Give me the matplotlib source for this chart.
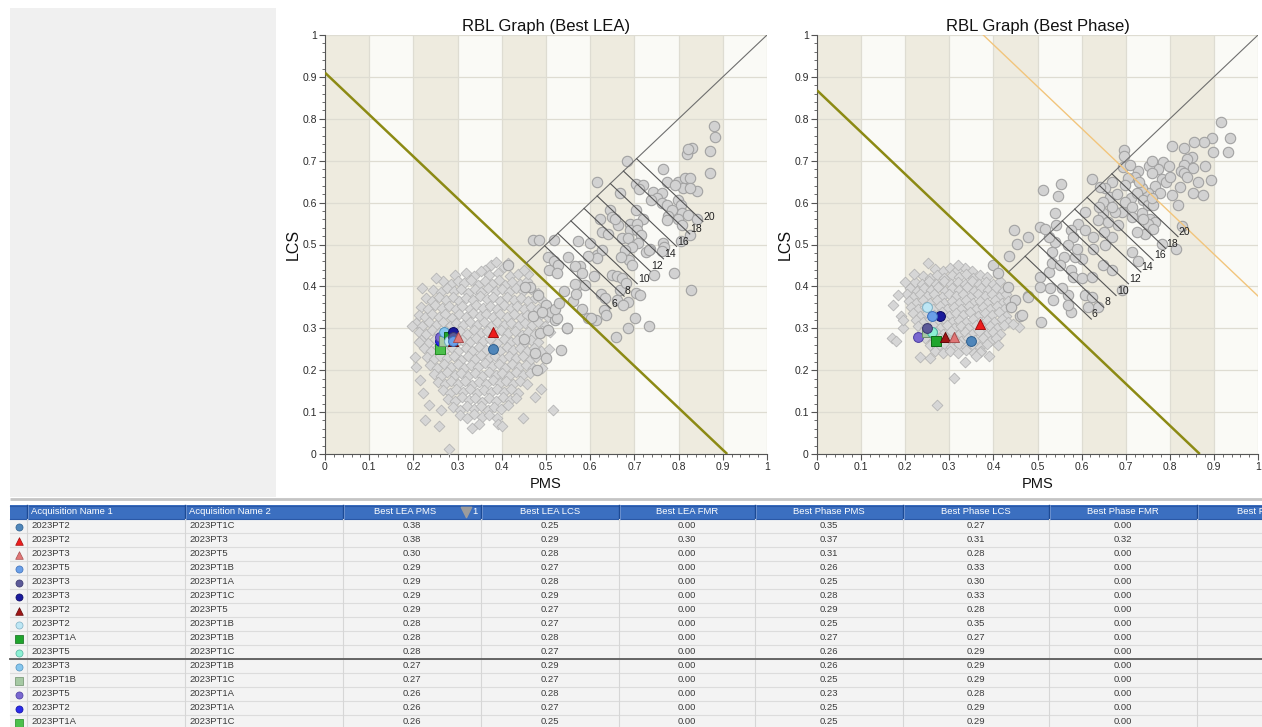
import matplotlib
matplotlib.use('Agg')
import matplotlib.pyplot as plt
from matplotlib.patches import Rectangle
from matplotlib.ticker import MultipleLocator
import numpy as np

# ---------------- DATA ----------------
# gray background population, "Best LEA" graph (diamonds = low scores, circles = high scores)
lea_diamonds = [
    (0.375,0.452),(0.388,0.458),(0.405,0.447),(0.415,0.455),(0.362,0.440),
    (0.295,0.428),(0.318,0.432),(0.337,0.425),(0.352,0.436),(0.371,0.427),(0.392,0.433),(0.418,0.424),(0.436,0.429),
    (0.268,0.412),(0.284,0.405),(0.301,0.414),(0.315,0.407),(0.331,0.416),(0.346,0.404),(0.362,0.413),(0.377,0.406),(0.393,0.415),(0.408,0.403),(0.424,0.411),(0.441,0.405),(0.458,0.414),
    (0.245,0.392),(0.262,0.386),(0.277,0.395),(0.292,0.388),(0.308,0.394),(0.323,0.385),(0.339,0.393),(0.354,0.387),(0.369,0.396),(0.386,0.389),(0.401,0.394),(0.417,0.386),(0.432,0.395),(0.449,0.388),(0.466,0.393),(0.481,0.385),
    (0.228,0.372),(0.243,0.366),(0.258,0.375),(0.273,0.368),(0.289,0.374),(0.304,0.365),(0.319,0.373),(0.335,0.367),(0.350,0.376),(0.366,0.369),(0.381,0.374),(0.397,0.366),(0.412,0.375),(0.428,0.368),(0.443,0.373),(0.459,0.365),(0.474,0.372),(0.490,0.367),
    (0.218,0.352),(0.233,0.346),(0.249,0.355),(0.264,0.348),(0.280,0.354),(0.296,0.345),(0.311,0.353),(0.327,0.347),(0.342,0.356),(0.357,0.349),(0.373,0.354),(0.389,0.346),(0.404,0.355),(0.420,0.348),(0.435,0.353),(0.451,0.345),(0.466,0.352),(0.482,0.347),(0.497,0.354),
    (0.212,0.332),(0.226,0.326),(0.241,0.335),(0.257,0.328),(0.272,0.334),(0.288,0.325),(0.303,0.333),(0.319,0.327),(0.334,0.336),(0.350,0.329),(0.365,0.334),(0.381,0.326),(0.396,0.335),(0.412,0.328),(0.427,0.333),(0.443,0.325),(0.458,0.332),(0.474,0.327),(0.489,0.334),(0.505,0.328),
    (0.205,0.312),(0.220,0.306),(0.235,0.315),(0.251,0.308),(0.266,0.314),(0.282,0.305),(0.297,0.313),(0.313,0.307),(0.328,0.316),(0.344,0.309),(0.359,0.314),(0.375,0.306),(0.390,0.315),(0.406,0.308),(0.421,0.313),(0.437,0.305),(0.452,0.312),(0.468,0.307),(0.483,0.314),(0.498,0.306),
    (0.212,0.292),(0.228,0.286),(0.243,0.295),(0.259,0.288),(0.274,0.294),(0.290,0.285),(0.305,0.293),(0.321,0.287),(0.336,0.296),(0.352,0.289),(0.367,0.294),(0.383,0.286),(0.398,0.295),(0.414,0.288),(0.429,0.293),(0.445,0.285),(0.460,0.292),(0.476,0.287),(0.491,0.294),
    (0.218,0.272),(0.233,0.266),(0.249,0.275),(0.264,0.268),(0.280,0.274),(0.296,0.265),(0.311,0.273),(0.327,0.267),(0.342,0.276),(0.357,0.269),(0.373,0.274),(0.389,0.266),(0.404,0.275),(0.420,0.268),(0.435,0.273),(0.451,0.265),(0.466,0.272),(0.482,0.267),
    (0.225,0.252),(0.240,0.246),(0.256,0.255),(0.271,0.248),(0.287,0.254),(0.302,0.245),(0.318,0.253),(0.333,0.247),(0.349,0.256),(0.364,0.249),(0.380,0.254),(0.395,0.246),(0.411,0.255),(0.426,0.248),(0.442,0.253),(0.457,0.245),(0.473,0.252),(0.488,0.247),
    (0.230,0.232),(0.246,0.226),(0.261,0.235),(0.277,0.228),(0.292,0.234),(0.308,0.225),(0.323,0.233),(0.339,0.227),(0.354,0.236),(0.370,0.229),(0.385,0.234),(0.401,0.226),(0.416,0.235),(0.432,0.228),(0.447,0.233),(0.463,0.225),(0.478,0.232),
    (0.238,0.212),(0.253,0.206),(0.269,0.215),(0.284,0.208),(0.300,0.214),(0.315,0.205),(0.331,0.213),(0.346,0.207),(0.362,0.216),(0.377,0.209),(0.393,0.214),(0.408,0.206),(0.424,0.215),(0.439,0.208),(0.455,0.213),(0.470,0.205),
    (0.246,0.192),(0.262,0.186),(0.277,0.195),(0.293,0.188),(0.308,0.194),(0.324,0.185),(0.339,0.193),(0.355,0.187),(0.370,0.196),(0.386,0.189),(0.401,0.194),(0.417,0.186),(0.432,0.195),(0.448,0.188),(0.463,0.193),
    (0.255,0.172),(0.271,0.166),(0.286,0.175),(0.302,0.168),(0.317,0.174),(0.333,0.165),(0.348,0.173),(0.364,0.167),(0.379,0.176),(0.395,0.169),(0.410,0.174),(0.426,0.166),(0.441,0.175),(0.457,0.168),
    (0.266,0.152),(0.282,0.146),(0.297,0.155),(0.313,0.148),(0.328,0.154),(0.344,0.145),(0.359,0.153),(0.375,0.147),(0.390,0.156),(0.406,0.149),(0.421,0.154),(0.437,0.146),
    (0.278,0.132),(0.294,0.126),(0.309,0.135),(0.325,0.128),(0.340,0.134),(0.356,0.125),(0.371,0.133),(0.387,0.127),(0.402,0.136),(0.418,0.129),(0.432,0.134),
    (0.290,0.112),(0.306,0.106),(0.321,0.115),(0.337,0.108),(0.352,0.114),(0.368,0.105),(0.383,0.113),(0.399,0.107),(0.414,0.116),
    (0.305,0.092),(0.322,0.086),(0.338,0.095),(0.356,0.088),(0.372,0.094),(0.390,0.085),
    (0.203,0.232),(0.207,0.208),(0.214,0.176),(0.221,0.146),(0.226,0.082),(0.236,0.118),(0.257,0.066),(0.262,0.104),
    (0.281,0.011),(0.332,0.062),(0.348,0.071),(0.392,0.072),(0.401,0.066),(0.448,0.086),(0.515,0.105),(0.492,0.205),
    (0.488,0.156),(0.475,0.137),(0.197,0.305),(0.213,0.268),(0.506,0.250),(0.510,0.290),(0.460,0.430),(0.450,0.440),
    (0.250,0.420),(0.220,0.395),
]
lea_circles = [
    (0.880,0.783),(0.882,0.757),(0.870,0.724),(0.871,0.670),(0.830,0.731),(0.820,0.715),(0.822,0.728),(0.684,0.699),
    (0.765,0.679),(0.615,0.648),(0.773,0.650),(0.799,0.650),(0.814,0.658),(0.826,0.658),(0.841,0.628),(0.811,0.634),
    (0.792,0.642),(0.826,0.634),(0.704,0.644),(0.720,0.642),(0.711,0.632),(0.667,0.622),(0.743,0.626),(0.762,0.622),
    (0.751,0.610),(0.738,0.606),(0.762,0.598),(0.773,0.594),(0.798,0.606),(0.805,0.594),(0.785,0.582),(0.807,0.574),
    (0.822,0.570),(0.841,0.562),(0.799,0.562),(0.777,0.568),(0.773,0.558),(0.807,0.546),(0.826,0.523),(0.805,0.509),
    (0.789,0.431),(0.827,0.391),(0.645,0.582),(0.649,0.566),(0.664,0.546),(0.656,0.562),(0.703,0.582),(0.720,0.562),
    (0.690,0.550),(0.707,0.550),(0.690,0.534),(0.705,0.534),(0.716,0.522),(0.709,0.503),(0.727,0.483),(0.735,0.490),
    (0.671,0.515),(0.686,0.515),(0.694,0.495),(0.679,0.487),(0.688,0.463),(0.695,0.451),(0.669,0.471),(0.622,0.562),
    (0.626,0.530),(0.641,0.526),(0.600,0.503),(0.615,0.474),(0.627,0.488),(0.616,0.467),(0.594,0.472),(0.577,0.448),
    (0.573,0.509),(0.550,0.471),(0.517,0.511),(0.471,0.511),(0.485,0.511),(0.505,0.471),(0.518,0.460),(0.527,0.452),
    (0.506,0.439),(0.526,0.431),(0.541,0.389),(0.565,0.448),(0.581,0.432),(0.573,0.404),(0.565,0.406),(0.588,0.404),
    (0.608,0.424),(0.649,0.427),(0.660,0.424),(0.671,0.420),(0.668,0.392),(0.682,0.408),(0.624,0.383),(0.633,0.372),
    (0.660,0.367),(0.686,0.363),(0.675,0.355),(0.703,0.385),(0.712,0.380),(0.745,0.427),(0.765,0.503),(0.766,0.495),
    (0.762,0.484),(0.732,0.487),(0.632,0.344),(0.613,0.320),(0.594,0.324),(0.636,0.332),(0.701,0.324),(0.686,0.300),
    (0.734,0.306),(0.658,0.280),(0.535,0.248),(0.548,0.300),(0.520,0.320),(0.560,0.364),(0.567,0.383),(0.582,0.345),
    (0.601,0.324),(0.415,0.451),(0.464,0.399),(0.483,0.380),(0.501,0.356),(0.512,0.340),(0.524,0.325),(0.547,0.300),
    (0.486,0.288),(0.479,0.200),(0.452,0.399),(0.505,0.296),(0.520,0.345),(0.530,0.360),(0.470,0.330),(0.490,0.340),
    (0.475,0.240),(0.500,0.230),(0.450,0.275),
]
# gray background population, "Best Phase" graph
phase_diamonds = [
    (0.268,0.442),(0.285,0.436),(0.302,0.445),(0.318,0.438),(0.335,0.444),(0.352,0.437),
    (0.240,0.426),(0.256,0.421),(0.272,0.428),(0.289,0.420),(0.305,0.427),(0.321,0.422),(0.338,0.429),(0.354,0.421),(0.370,0.427),(0.385,0.423),
    (0.222,0.411),(0.238,0.405),(0.254,0.412),(0.270,0.406),(0.287,0.413),(0.303,0.405),(0.319,0.411),(0.336,0.406),(0.352,0.413),(0.368,0.405),(0.384,0.411),(0.400,0.406),(0.414,0.412),
    (0.210,0.396),(0.226,0.390),(0.242,0.397),(0.258,0.391),(0.275,0.398),(0.291,0.390),(0.307,0.396),(0.323,0.391),(0.340,0.398),(0.356,0.390),(0.372,0.396),(0.388,0.391),(0.405,0.397),(0.421,0.390),
    (0.203,0.381),(0.218,0.375),(0.234,0.382),(0.250,0.376),(0.266,0.383),(0.283,0.375),(0.299,0.381),(0.315,0.376),(0.331,0.383),(0.348,0.375),(0.364,0.381),(0.380,0.376),(0.396,0.383),(0.413,0.375),(0.428,0.381),
    (0.208,0.366),(0.224,0.360),(0.240,0.367),(0.256,0.361),(0.273,0.368),(0.289,0.360),(0.305,0.366),(0.321,0.361),(0.338,0.368),(0.354,0.360),(0.370,0.366),(0.386,0.361),(0.403,0.368),(0.419,0.360),(0.434,0.366),
    (0.214,0.351),(0.230,0.345),(0.246,0.352),(0.262,0.346),(0.279,0.353),(0.295,0.345),(0.311,0.351),(0.327,0.346),(0.344,0.353),(0.360,0.345),(0.376,0.351),(0.392,0.346),(0.409,0.353),(0.425,0.345),(0.440,0.351),
    (0.218,0.336),(0.234,0.330),(0.250,0.337),(0.266,0.331),(0.283,0.338),(0.299,0.330),(0.315,0.336),(0.331,0.331),(0.348,0.338),(0.364,0.330),(0.380,0.336),(0.396,0.331),(0.413,0.338),(0.429,0.330),
    (0.224,0.321),(0.240,0.315),(0.256,0.322),(0.272,0.316),(0.289,0.323),(0.305,0.315),(0.321,0.321),(0.337,0.316),(0.354,0.323),(0.370,0.315),(0.386,0.321),(0.402,0.316),(0.419,0.323),(0.433,0.315),
    (0.230,0.306),(0.246,0.300),(0.262,0.307),(0.278,0.301),(0.295,0.308),(0.311,0.300),(0.327,0.306),(0.343,0.301),(0.360,0.308),(0.376,0.300),(0.392,0.306),(0.408,0.301),(0.423,0.307),
    (0.238,0.291),(0.254,0.285),(0.270,0.292),(0.286,0.286),(0.303,0.293),(0.319,0.285),(0.335,0.291),(0.351,0.286),(0.368,0.293),(0.384,0.285),(0.400,0.291),(0.414,0.286),
    (0.246,0.276),(0.262,0.270),(0.278,0.277),(0.294,0.271),(0.311,0.278),(0.327,0.270),(0.343,0.276),(0.359,0.271),(0.376,0.278),(0.392,0.270),(0.405,0.276),
    (0.256,0.261),(0.272,0.255),(0.288,0.262),(0.304,0.256),(0.321,0.263),(0.337,0.255),(0.353,0.261),(0.369,0.256),(0.386,0.263),
    (0.268,0.246),(0.285,0.240),(0.302,0.247),(0.320,0.241),(0.338,0.248),(0.356,0.240),(0.372,0.246),
    (0.169,0.276),(0.184,0.379),(0.173,0.356),(0.233,0.232),(0.256,0.228),(0.311,0.181),(0.271,0.117),(0.460,0.332),
    (0.457,0.304),(0.336,0.220),(0.370,0.244),(0.252,0.455),(0.190,0.330),(0.195,0.300),(0.180,0.270),(0.200,0.410),
    (0.220,0.430),(0.390,0.235),(0.320,0.450),(0.360,0.235),(0.410,0.260),(0.445,0.310),(0.195,0.320),
]
phase_circles = [
    (0.916,0.793),(0.936,0.755),(0.933,0.720),(0.895,0.755),(0.898,0.720),(0.878,0.745),(0.854,0.744),(0.832,0.731),
    (0.804,0.736),(0.850,0.709),(0.838,0.705),(0.832,0.690),(0.852,0.683),(0.880,0.687),(0.825,0.676),(0.833,0.670),
    (0.840,0.660),(0.865,0.648),(0.893,0.654),(0.852,0.624),(0.876,0.618),(0.823,0.638),(0.804,0.618),(0.819,0.594),
    (0.784,0.697),(0.799,0.687),(0.774,0.679),(0.753,0.687),(0.782,0.656),(0.792,0.648),(0.766,0.640),(0.778,0.624),
    (0.750,0.624),(0.736,0.634),(0.727,0.676),(0.721,0.662),(0.706,0.658),(0.696,0.726),(0.696,0.712),(0.693,0.686),
    (0.698,0.642),(0.711,0.612),(0.725,0.622),(0.740,0.606),(0.751,0.594),(0.762,0.594),(0.698,0.602),(0.691,0.578),
    (0.714,0.590),(0.714,0.566),(0.736,0.574),(0.755,0.562),(0.766,0.554),(0.751,0.550),(0.762,0.538),(0.827,0.544),
    (0.813,0.489),(0.782,0.501),(0.744,0.525),(0.725,0.529),(0.714,0.481),(0.729,0.461),(0.668,0.650),(0.653,0.634),
    (0.664,0.614),(0.649,0.602),(0.624,0.657),(0.641,0.637),(0.676,0.578),(0.649,0.574),(0.638,0.558),(0.660,0.554),
    (0.683,0.546),(0.668,0.518),(0.653,0.498),(0.607,0.578),(0.592,0.550),(0.607,0.534),(0.577,0.534),(0.626,0.518),
    (0.626,0.490),(0.600,0.466),(0.585,0.470),(0.649,0.451),(0.668,0.439),(0.691,0.391),(0.577,0.439),(0.581,0.423),
    (0.600,0.421),(0.623,0.423),(0.608,0.379),(0.623,0.375),(0.638,0.351),(0.615,0.351),(0.570,0.379),(0.577,0.340),
    (0.570,0.356),(0.555,0.395),(0.536,0.367),(0.528,0.395),(0.525,0.435),(0.506,0.423),(0.506,0.399),(0.532,0.455),
    (0.532,0.483),(0.539,0.506),(0.525,0.518),(0.543,0.546),(0.581,0.518),(0.505,0.542),(0.517,0.538),(0.479,0.518),
    (0.454,0.501),(0.447,0.534),(0.435,0.473),(0.479,0.376),(0.508,0.316),(0.460,0.329),(0.512,0.630),(0.546,0.616),
    (0.553,0.645),(0.540,0.574),(0.400,0.451),(0.411,0.431),(0.434,0.399),(0.449,0.367),(0.479,0.375),(0.464,0.332),
    (0.441,0.351),(0.560,0.470),(0.570,0.500),(0.590,0.490),(0.550,0.450),(0.650,0.530),(0.640,0.590),(0.670,0.590),
    (0.680,0.620),(0.730,0.650),(0.760,0.670),(0.740,0.560),(0.760,0.610),(0.800,0.660),(0.710,0.690),(0.760,0.700),
]

# cut-off lines (x + y = cut) and guide lines
lea_cut = 0.91
phase_cut = 0.868
phase_upper_cut = 1.377
lea_hatch_start, lea_hatch_step = 0.497, 0.0297
phase_hatch_start, phase_hatch_step = 0.472, 0.0281
hatch_labels = ['6', '8', '10', '12', '14', '16', '18', '20']

# table rows
name1 = ['2023PT2', '2023PT2', '2023PT3', '2023PT5', '2023PT3', '2023PT3', '2023PT2', '2023PT2',
         '2023PT1A', '2023PT5', '2023PT3', '2023PT1B', '2023PT5', '2023PT2', '2023PT1A']
name2 = ['2023PT1C', '2023PT3', '2023PT5', '2023PT1B', '2023PT1A', '2023PT1C', '2023PT5', '2023PT1B',
         '2023PT1B', '2023PT1C', '2023PT1B', '2023PT1C', '2023PT1A', '2023PT1A', '2023PT1C']
lea_pms = [0.38, 0.38, 0.30, 0.29, 0.29, 0.29, 0.29, 0.28, 0.28, 0.28, 0.27, 0.27, 0.26, 0.26, 0.26]
lea_lcs = [0.25, 0.29, 0.28, 0.27, 0.28, 0.29, 0.27, 0.27, 0.28, 0.27, 0.29, 0.27, 0.28, 0.27, 0.25]
lea_fmr = [0.00, 0.30, 0.00, 0.00, 0.00, 0.00, 0.00, 0.00, 0.00, 0.00, 0.00, 0.00, 0.00, 0.00, 0.00]
phase_pms = [0.35, 0.37, 0.31, 0.26, 0.25, 0.28, 0.29, 0.25, 0.27, 0.26, 0.26, 0.25, 0.23, 0.25, 0.25]
phase_lcs = [0.27, 0.31, 0.28, 0.33, 0.30, 0.33, 0.28, 0.35, 0.27, 0.29, 0.29, 0.29, 0.28, 0.29, 0.29]
phase_fmr = [0.00, 0.32, 0.00, 0.00, 0.00, 0.00, 0.00, 0.00, 0.00, 0.00, 0.00, 0.00, 0.00, 0.00, 0.00]
row_markers = ['o', '^', '^', 'o', 'o', 'o', '^', 'o', 's', 'o', 'o', 's', 'o', 'o', 's']
row_colors = ['#4f86ba', '#ee1c1c', '#e07676', '#6a9fe8', '#5c5a98', '#1a1a9c', '#a01515', '#bde6f4',
              '#1fa52d', '#8cf0d4', '#86c6ee', '#a6c9a4', '#7a68d0', '#2b2bea', '#4cc04c']
row_edges = ['#2e5f8e', '#a01010', '#a85050', '#3d6fb8', '#3a386e', '#0a0a60', '#600808', '#7fb0c4',
             '#0f6a18', '#50b09a', '#4f90bb', '#6e8f6c', '#4a3ea0', '#1010a0', '#238a23']

headers = ['', 'Acquisition Name 1', 'Acquisition Name 2', 'Best LEA PMS', 'Best LEA LCS', 'Best LEA FMR',
           'Best Phase PMS', 'Best Phase LCS', 'Best Phase FMR', 'Best Phase Rank']

# ---------------- LAYOUT ----------------
W, H = 1262, 727
fig = plt.figure(figsize=(W / 100, H / 100), dpi=100)
fig.patch.set_facecolor('white')
FONT = 'Liberation Sans'
plt.rcParams['font.family'] = FONT

# left empty gray panel
fig.patches.append(Rectangle((10 / W, 1 - 497 / H), 266 / W, 489 / H, transform=fig.transFigure,
                             facecolor='#f0f0f0', edgecolor='none', zorder=0))


def draw_rbl(ax, title, diamonds, circles, sel_x, sel_y, cut, h_start, h_step, upper_cut=None):
    ax.set_xlim(0, 1)
    ax.set_ylim(0, 1)
    band = ['#eeebdf', '#fafaf6']
    for i in range(10):
        ax.axvspan(i * 0.1, (i + 1) * 0.1, facecolor=band[i % 2], edgecolor='none', zorder=0)
    ax.set_xticks(np.round(np.arange(0, 1.01, 0.1), 1))
    ax.set_yticks(np.round(np.arange(0, 1.01, 0.1), 1))
    labs = ['0'] + ['%.1f' % v for v in np.arange(0.1, 0.95, 0.1)] + ['1']
    ax.set_xticklabels(labs)
    ax.set_yticklabels(labs)
    ax.xaxis.set_minor_locator(MultipleLocator(0.02))
    ax.yaxis.set_minor_locator(MultipleLocator(0.02))
    ax.grid(True, which='major', color='#dedcd2', lw=0.9, zorder=0.5)
    ax.set_axisbelow(True)
    ax.tick_params(which='major', length=4, width=0.8, color='#555555', labelsize=7.5,
                   labelcolor='#2a2a2a', pad=2)
    ax.tick_params(which='minor', length=2, width=0.6, color='#555555')
    for s in ('top', 'right'):
        ax.spines[s].set_visible(False)
    for s in ('left', 'bottom'):
        ax.spines[s].set_color('#555555')
        ax.spines[s].set_linewidth(0.8)

    dx = [p[0] for p in diamonds]
    dy = [p[1] for p in diamonds]
    ax.scatter(dx, dy, marker='D', s=30, facecolor='#d6d6d6', edgecolor='#b5b5b5', linewidth=0.6, zorder=3)
    cx = [p[0] for p in circles]
    cy = [p[1] for p in circles]
    ax.scatter(cx, cy, marker='o', s=56, facecolor='#d2d2d2', edgecolor='#a2a2a2', linewidth=0.8, zorder=4)

    # cut-off line and diagonal
    ax.plot([0, cut], [cut, 0], color='#8c8a14', lw=1.8, zorder=5, solid_capstyle='butt')
    ax.plot([cut / 2, 1], [cut / 2, 1], color='#6e6e6e', lw=0.8, zorder=5)
    if upper_cut is not None:
        ax.plot([upper_cut - 1, 1], [1, upper_cut - 1], color='#f2c57c', lw=1.0, zorder=5)
    for k, lab in enumerate(hatch_labels):
        t = h_start + k * h_step
        ax.plot([t, t + 0.15], [t, t - 0.15], color='#555555', lw=0.8, zorder=5)
        ax.annotate(lab, xy=(t + 0.15, t - 0.15), xytext=(0.5, 3.5), textcoords='offset points',
                    ha='left', va='center', fontsize=7.5, color='#222222', zorder=6)

    for i in range(len(sel_x) - 1, -1, -1):
        sz = 52 if row_markers[i] == '^' else (44 if row_markers[i] == 's' else 50)
        ax.scatter([sel_x[i]], [sel_y[i]], marker=row_markers[i], s=sz, facecolor=row_colors[i],
                   edgecolor=row_edges[i], linewidth=0.7, zorder=7)

    ax.set_title(title, fontsize=12, pad=3, color='#111111')
    ax.set_xlabel('PMS', fontsize=10.5, labelpad=3, color='#111111')
    ax.set_ylabel('LCS', fontsize=11.5, labelpad=1, color='#111111')


ax1 = fig.add_axes([325 / W, 1 - 454 / H, 442 / W, 419 / H])
draw_rbl(ax1, 'RBL Graph (Best LEA)', lea_diamonds, lea_circles, lea_pms, lea_lcs,
         lea_cut, lea_hatch_start, lea_hatch_step)
ax2 = fig.add_axes([817 / W, 1 - 454 / H, 441 / W, 419 / H])
draw_rbl(ax2, 'RBL Graph (Best Phase)', phase_diamonds, phase_circles, phase_pms, phase_lcs,
         phase_cut, phase_hatch_start, phase_hatch_step, upper_cut=phase_upper_cut)

# ---------------- TABLE ----------------
tax = fig.add_axes([0, 0, 1, 229 / H])
tax.set_xlim(0, W)
tax.set_ylim(727, 498)
tax.axis('off')

col_edges = [10, 27, 185, 343, 481, 619, 755, 903, 1049, 1197, 1346]
header_top, header_h, row_h = 505, 14, 14
tax.plot([10, W], [499, 499], color='#c4c4c4', lw=2, solid_capstyle='butt')
tax.add_patch(Rectangle((10, header_top), W - 10, header_h, facecolor='#3b6fc0', edgecolor='none'))
tax.plot([10, W], [header_top + 0.5, header_top + 0.5], color='#2a58a6', lw=0.8)
tax.plot([10, W], [header_top + header_h, header_top + header_h], color='#2a58a6', lw=0.8)
for xe in col_edges[1:-1]:
    tax.plot([xe, xe], [header_top, header_top + header_h], color='#1d4a94', lw=1.0)
    tax.plot([xe + 1, xe + 1], [header_top, header_top + header_h], color='#7396d2', lw=0.6)

hy = header_top + header_h / 2
for j, htxt in enumerate(headers):
    if not htxt:
        continue
    if j in (1, 2):
        tax.text(col_edges[j] + 4, hy, htxt, ha='left', va='center', fontsize=6.8, color='white')
    elif j == 3:
        tax.text(405, hy, htxt, ha='center', va='center', fontsize=6.8, color='white')
    elif j == len(headers) - 1:
        # last column is cut off by the window edge, as in the screenshot
        tax.text(col_edges[j] + 40, hy, htxt, ha='left', va='center', fontsize=6.8, color='white',
                 clip_on=True)
    else:
        tax.text((col_edges[j] + col_edges[j + 1]) / 2, hy, htxt, ha='center', va='center',
                 fontsize=6.8, color='white')
# sort indicator in "Best LEA PMS"
tax.scatter([466], [hy], marker='v', s=55, color='#9c9c9c', zorder=3)
tax.text(475, hy, '1', ha='center', va='center', fontsize=6.8, color='white')

first_row = header_top + header_h
n_rows = len(name1)
for i in range(n_rows):
    y0 = first_row + i * row_h
    tax.add_patch(Rectangle((10, y0), W - 10, row_h, facecolor='#f3f3f3', edgecolor='none', zorder=1))
    tax.plot([10, W], [y0 + row_h, y0 + row_h], color='#dcdcdc', lw=0.8, zorder=2)
    yc = y0 + row_h / 2
    sz = 30 if row_markers[i] == '^' else 26
    tax.scatter([18.5], [yc + 0.5], marker=row_markers[i], s=sz, facecolor=row_colors[i],
                edgecolor=row_edges[i], linewidth=0.5, zorder=4)
    tax.text(col_edges[1] + 4, yc, name1[i], ha='left', va='center', fontsize=6.8, color='#3c3c3c', zorder=4)
    tax.text(col_edges[2] + 4, yc, name2[i], ha='left', va='center', fontsize=6.8, color='#3c3c3c', zorder=4)
    vals = [lea_pms[i], lea_lcs[i], lea_fmr[i], phase_pms[i], phase_lcs[i], phase_fmr[i]]
    for j, v in enumerate(vals):
        c = j + 3
        tax.text((col_edges[c] + col_edges[c + 1]) / 2, yc, '%.2f' % v, ha='center', va='center',
                 fontsize=6.8, color='#3c3c3c', zorder=4)
for xe in col_edges[1:-1]:
    tax.plot([xe, xe], [first_row, H], color='#d6d6d6', lw=0.8, zorder=2)
sep_y = first_row + 10 * row_h
tax.plot([10, W], [sep_y, sep_y], color='#5a5a5a', lw=1.3, zorder=3)

fig.savefig('out.png', dpi=100, facecolor='white')
